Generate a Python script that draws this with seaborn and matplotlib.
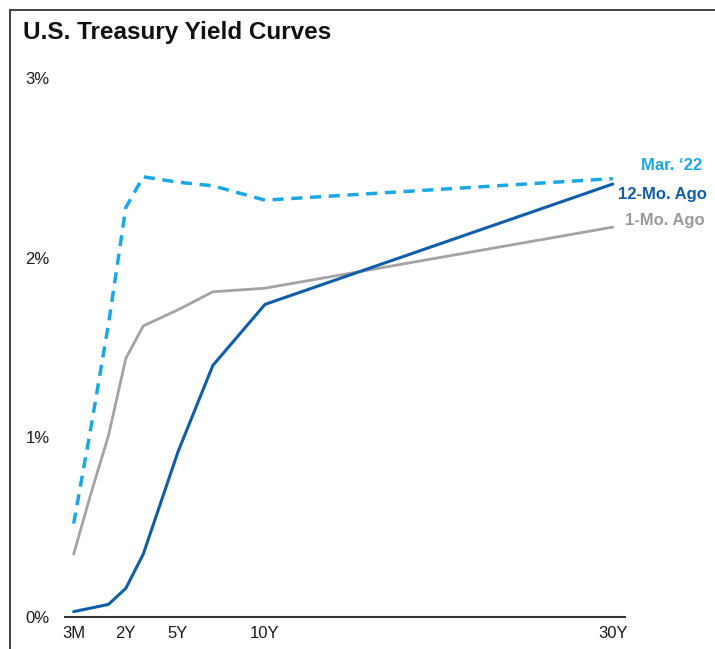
import matplotlib
matplotlib.use("Agg")
import matplotlib.pyplot as plt
import seaborn as sns
import pandas as pd
from matplotlib.lines import Line2D

# ---- data ----
tenors = ["3M", "6M", "1Y", "2Y", "3Y", "5Y", "7Y", "10Y", "30Y"]
tenor_pos = [-1, 0, 1, 2, 3, 5, 7, 10, 30]
mar22 = [0.52, 1.06, 1.63, 2.28, 2.45, 2.42, 2.40, 2.32, 2.44]
mo12_ago = [0.03, 0.05, 0.07, 0.16, 0.35, 0.92, 1.40, 1.74, 2.41]
mo1_ago = [0.35, 0.69, 1.01, 1.44, 1.62, 1.71, 1.81, 1.83, 2.17]
series_names = ["Mar. \u201822", "12-Mo. Ago", "1-Mo. Ago"]
tick_labels = ["3M", "2Y", "5Y", "10Y", "30Y"]
tick_pos = [-1, 2, 5, 10, 30]
y_ticks = [0, 1, 2, 3]
y_tick_labels = ["0%", "1%", "2%", "3%"]

sns.set_theme(style="white")
plt.rcParams["font.family"] = ["Liberation Sans", "DejaVu Sans"]

W, H = 715, 649
fig = plt.figure(figsize=(W / 100, H / 100), dpi=100)
ax = fig.add_axes([65 / W, 1 - 617 / H, (625 - 65) / W, (617 - 78) / H])

c_mar = "#1AA7E6"
c_12 = "#0F5EAA"
c_1 = "#A3A3A3"

df_1 = pd.DataFrame({"x": tenor_pos, "y": mo1_ago})
df_12 = pd.DataFrame({"x": tenor_pos, "y": mo12_ago})
df_m = pd.DataFrame({"x": tenor_pos, "y": mar22})

sns.lineplot(data=df_1, x="x", y="y", ax=ax, color=c_1, linewidth=2.0,
             sort=False)
sns.lineplot(data=df_12, x="x", y="y", ax=ax, color=c_12, linewidth=2.2,
             sort=False)
sns.lineplot(data=df_m, x="x", y="y", ax=ax, color=c_mar, linewidth=2.5,
             sort=False, dashes=False)
ax.lines[-1].set_dashes([3.2, 2.2])

ax.set_xlim(-1.5, 30.7)
ax.set_ylim(0, 3.0)
ax.set_xticks(tick_pos)
ax.set_xticklabels(tick_labels)
ax.set_yticks(y_ticks)
ax.set_yticklabels(y_tick_labels)
ax.set_xlabel("")
ax.set_ylabel("")
for s in ["top", "right", "left"]:
    ax.spines[s].set_visible(False)
ax.spines["bottom"].set_color("#333333")
ax.spines["bottom"].set_linewidth(1.5)
ax.tick_params(axis="both", length=0, labelsize=12, colors="#1a1a1a")
ax.tick_params(axis="y", pad=11)
ax.tick_params(axis="x", pad=6.5)
ax.grid(False)

# end labels
ax.annotate(series_names[0], xy=(30, mar22[-1]), xytext=(64, 9.5),
            textcoords="offset points", ha="right", va="center",
            color=c_mar, fontsize=12, fontweight="bold", annotation_clip=False)
ax.annotate(series_names[1], xy=(30, mo12_ago[-1]), xytext=(4, -7.5),
            textcoords="offset points", ha="left", va="center",
            color=c_12, fontsize=12, fontweight="bold", annotation_clip=False)
ax.annotate(series_names[2], xy=(30, mo1_ago[-1]), xytext=(9, 4.5),
            textcoords="offset points", ha="left", va="center",
            color="#9A9A9A", fontsize=12, fontweight="bold", annotation_clip=False)

# title
fig.text(23 / W, 1 - 33 / H, "U.S. Treasury Yield Curves", ha="left",
         va="center", fontsize=17.5, fontweight="bold", color="#111111")

# frame (left + top)
fig.add_artist(Line2D([10 / W, 10 / W], [0, 1 - 10 / H], transform=fig.transFigure,
                      color="#333333", linewidth=1.3))
fig.add_artist(Line2D([10 / W, 1], [1 - 10 / H, 1 - 10 / H], transform=fig.transFigure,
                      color="#333333", linewidth=1.3))

fig.savefig("out.png", dpi=100)
